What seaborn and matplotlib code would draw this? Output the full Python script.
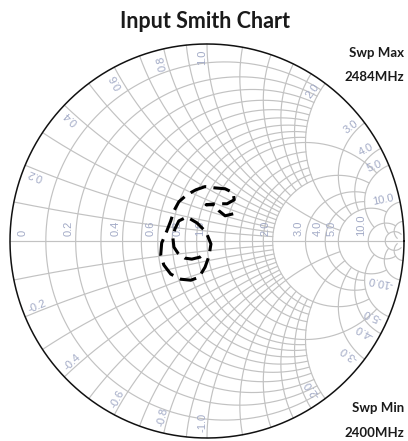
import numpy as np
import matplotlib
matplotlib.use("Agg")
import matplotlib.pyplot as plt
import seaborn as sns
import pandas as pd

# ---------------- data ----------------
title = "Input Smith Chart"
swp_max_label = ["Swp Max", "2484MHz"]
swp_min_label = ["Swp Min", "2400MHz"]

# reflection coefficient of the trace (real / imaginary part)
gamma_re = [0.133, 0.092, 0.061, 0.036, -0.005, 0.046, 0.102, 0.138, 0.133, 0.092,
            0.036, -0.010, -0.056, -0.102, -0.143, -0.168, -0.184, -0.204, -0.230,
            -0.235, -0.219, -0.184, -0.133, -0.082, -0.041, -0.010, 0.010, 0.020,
            -0.005, -0.051, -0.102, -0.143, -0.163, -0.173, -0.168, -0.148, -0.112,
            -0.077, -0.036, -0.005]
gamma_im = [0.138, 0.128, 0.153, 0.184, 0.184, 0.189, 0.189, 0.209, 0.245, 0.265,
            0.270, 0.276, 0.260, 0.235, 0.199, 0.153, 0.102, 0.051, -0.010,
            -0.071, -0.122, -0.168, -0.194, -0.199, -0.184, -0.133, -0.077, -0.015,
            0.046, 0.092, 0.122, 0.102, 0.061, 0.015, -0.031, -0.061, -0.087,
            -0.092, -0.082, -0.056]

r_axis_labels = [0, 0.2, 0.4, 0.6, 0.8, 1.0, 2.0, 3.0, 4.0, 5.0, 10.0]
x_arc_labels = [0.2, 0.4, 0.6, 0.8, 1.0, 2.0, 3.0, 4.0, 5.0, 10.0]

# grid: (value, limit of the other coordinate)
r_grid = ([(v, 2.0) for v in [0.1, 0.2, 0.3, 0.4, 0.5, 0.6, 0.7, 0.8, 0.9]] + [(1.0, 5.0)]
          + [(v, 2.0) for v in [1.2, 1.4, 1.6, 1.8]] + [(2.0, 5.0), (3.0, 5.0), (4.0, 5.0),
          (5.0, 10.0), (10.0, 20.0), (20.0, 50.0)])
x_grid = r_grid

# ---------------- style ----------------
sns.set_style("white")
plt.rcParams["font.family"] = ["Lato", "DejaVu Sans"]

GRID = "#c2c2c2"
LABEL = "#a2aac6"

fig = plt.figure(figsize=(4.08, 4.41), dpi=100)
ax = fig.add_axes([0, 0, 1, 1])
R = 197.0
ax.set_xlim(-207 / R, 201 / R)
ax.set_ylim(-200 / R, 241 / R)
ax.set_aspect("equal")
ax.axis("off")


def gamma(z):
    return (z - 1) / (z + 1)


for r, xl in r_grid:
    t = np.linspace(-np.arctan(xl), np.arctan(xl), 500)
    g = gamma(r + 1j * np.tan(t))
    ax.plot(g.real, g.imag, color=GRID, lw=0.85, zorder=1)

for xv, rl in x_grid:
    t = np.linspace(0, np.arctan(rl), 400)
    for s in (1, -1):
        g = gamma(np.tan(t) + 1j * s * xv)
        ax.plot(g.real, g.imag, color=GRID, lw=0.85, zorder=1)

ax.plot([-1, 1], [0, 0], color=GRID, lw=0.85, zorder=1)
th = np.linspace(0, 2 * np.pi, 720)
ax.plot(np.cos(th), np.sin(th), color="#111111", lw=1.1, zorder=3)

# real-axis labels
for r in r_axis_labels:
    g = (r - 1) / (r + 1)
    txt = "0" if r == 0 else f"{r:.1f}"
    if r == 0:
        xpos = g + 18 / R
    else:
        xpos = g - 2 / R
    ax.text(xpos, 5 / R, txt, rotation=90, rotation_mode="anchor",
            ha="left", va="bottom", fontsize=8, color=LABEL,
            family=["Liberation Sans"], zorder=2)

# reactance labels along the rim
for xv in x_arc_labels:
    gp = gamma(1j * xv)
    ang = np.angle(gp)
    rr = 0.97
    ax.text(rr * np.cos(ang), rr * np.sin(ang), f"{xv:.1f}", rotation=np.degrees(ang),
            rotation_mode="anchor", ha="right", va="bottom", fontsize=8,
            color=LABEL, family=["Liberation Sans"], zorder=2)
    ax.text(rr * np.cos(-ang), rr * np.sin(-ang), f"-{xv:.1f}",
            rotation=180 - np.degrees(ang), rotation_mode="anchor",
            ha="left", va="bottom", fontsize=8, color=LABEL,
            family=["Liberation Sans"], zorder=2)

# trace
df = pd.DataFrame({"re": gamma_re, "im": gamma_im})
sns.lineplot(data=df, x="re", y="im", sort=False, estimator=None, color="black",
             lw=2.2, ax=ax, zorder=4)
line = ax.lines[-1]
line.set_linestyle((0, (5.5, 2.4)))
line.set_dash_capstyle("butt")

fig.text(205 / 408, 1 - 21 / 441, title, ha="center", va="center",
         fontsize=15.5, fontweight="bold", color="#1a1a1a")
for lab, py in zip(swp_max_label + swp_min_label, [53, 77, 408, 433]):
    fig.text(404 / 408, 1 - py / 441, lab, ha="right", va="center",
             fontsize=9.5, fontweight="bold", color="#1a1a1a")

fig.savefig("out.png", dpi=100)
